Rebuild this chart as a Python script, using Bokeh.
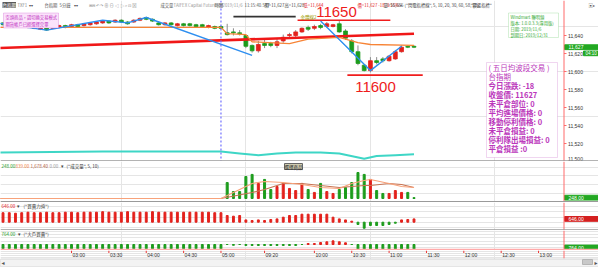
from bokeh.plotting import figure
from bokeh.models import Range1d, Span, Label, BoxAnnotation, ColumnDataSource
from bokeh.layouts import column
from bokeh.embed import file_html
from bokeh.resources import INLINE
from bokeh.core.properties import value

# ------------------------------------------------------------------ data
# 5-minute bars: 36 night-session bars then 31 day-session bars
bar_open = [11654, 11652, 11651, 11652, 11649, 11650, 11647, 11649, 11648, 11649,
            11651, 11650, 11652, 11651, 11652, 11653, 11654, 11656, 11655, 11657,
            11655, 11655, 11657, 11660, 11658, 11654, 11652, 11654, 11651, 11653,
            11653, 11652, 11652, 11649, 11650, 11650,
            11643, 11644, 11643, 11640, 11629, 11623, 11631, 11631, 11629, 11634,
            11640, 11640, 11644, 11649, 11648, 11651, 11650, 11650, 11653, 11645,
            11634, 11622, 11607, 11601, 11612, 11614, 11612, 11614, 11622, 11628, 11628]
bar_high = [11655, 11655, 11654, 11653, 11652, 11651, 11650, 11650, 11651, 11652,
            11652, 11653, 11653, 11654, 11655, 11656, 11657, 11657, 11658, 11658,
            11656, 11658, 11660, 11661, 11659, 11656, 11655, 11655, 11654, 11654,
            11654, 11653, 11653, 11652, 11651, 11651,
            11653, 11648, 11646, 11641, 11630, 11634, 11637, 11633, 11637, 11641,
            11643, 11646, 11649, 11651, 11652, 11653, 11655, 11653, 11656, 11647,
            11636, 11629, 11608, 11616, 11616, 11616, 11618, 11624, 11629, 11629, 11629]
bar_low = [11651, 11651, 11650, 11649, 11648, 11647, 11646, 11645, 11647, 11648,
           11648, 11649, 11649, 11650, 11651, 11652, 11653, 11653, 11654, 11654,
           11652, 11654, 11656, 11657, 11655, 11651, 11651, 11651, 11650, 11650,
           11650, 11649, 11649, 11648, 11647, 11647,
           11640, 11640, 11640, 11626, 11621, 11621, 11626, 11627, 11626, 11632,
           11637, 11638, 11643, 11645, 11646, 11647, 11649, 11649, 11643, 11635,
           11620, 11607, 11600, 11599, 11608, 11610, 11611, 11613, 11621, 11626, 11626]
bar_close = [11652, 11654, 11653, 11650, 11651, 11648, 11649, 11646, 11650, 11651,
             11649, 11652, 11650, 11653, 11654, 11655, 11656, 11654, 11657, 11655,
             11653, 11657, 11659, 11658, 11656, 11652, 11654, 11652, 11653, 11651,
             11651, 11650, 11650, 11651, 11648, 11648,
             11641, 11643, 11642, 11628, 11623, 11630, 11629, 11629, 11633, 11638,
             11641, 11644, 11648, 11647, 11650, 11649, 11653, 11652, 11644, 11637,
             11622, 11609, 11601, 11612, 11610, 11612, 11617, 11622, 11627, 11627, 11627]
night_bars = 36

# price-panel lines
ma_long_x = [0, 67]
ma_long = [11626, 11642]
ma_mid_x = [0, 36, 37, 40, 41, 47, 50, 55, 58, 60, 67]
ma_mid = [11649, 11649, 11642, 11641, 11633, 11631, 11636, 11638, 11632, 11630, 11629]
zig1_x = [0, 8, 17, 21, 24, 41]
zig1 = [11654, 11646, 11657, 11654, 11660, 11618]
zig2_x = [52, 60, 65]
zig2 = [11656, 11601, 11628]
cyan_x = [0, 17, 27, 36, 39, 42, 45, 48, 52, 55, 59, 61, 64, 67]
cyan = [11510, 11511, 11511, 11511, 11509, 11507, 11509, 11510, 11510, 11509, 11503, 11506, 11507, 11508]
high_line = {"x0": 38, "x1": 48, "y": 11661}
level_650 = {"x0": 48.3, "x1": 63.2, "y": 11657}
level_600 = {"x0": 56.3, "x1": 68.4, "y": 11596}
price_ticks = [11500, 11520, 11540, 11560, 11580, 11600, 11620, 11640]

# volume (day session only)
day_volume = [1120, 600, 600, 1470, 1590, 1070, 1300, 720, 890, 1070,
              780, 660, 1070, 720, 550, 1070, 600, 490, 720, 840,
              1120, 1700, 1590, 1300, 660, 490, 490, 660, 550, 550, 248]
vol_ma_x = [0, 36, 41, 43, 46, 49, 52, 55, 57, 59, 60, 63, 65, 67]
vol_ma5 = [200, 200, 1066, 1181, 1123, 1008, 835, 777, 1066, 1239, 1296, 1066, 892, 835]
vol_ma10 = [200, 200, 546, 719, 1066, 1066, 950, 835, 892, 950, 950, 1066, 1008, 835]
VOL_AXIS_MIN = 200

# 買賣力道
force = [1860, 1860, 1760, 1860, 1960, 1860, 1860, 1960, 1860, 1860,
         1960, 1960, 1860, 1960, 1960, 1960, 2060, 1960, 1960, 1960,
         2060, 1960, 1960, 1960, 2060, 1960, 1960, 1960, 1960, 1960,
         1960, 1960, 1960, 1960, 1860, 1860,
         1310, 1180, 1310, 450, 330, 450, 330, 530, 650, 980,
         1310, 1310, 1570, 1570, 1570, 1570, 1570, 980, 650, 450,
         200, -450, -1180, -650, -650, -650, -450, -200, 450, 530, 646]
# 大戶買賣
bigplayer = [-650, -620, -660, -650, -640, -660, -650, -650, -630, -660,
             -650, -650, -660, -640, -650, -650, -660, -650, -650, -640,
             -650, -660, -650, -650, -650, -640, -660, -650, -650, -650,
             -660, -650, -640, -650, -650, -660,
             0, -120, 0, -150, -150, -150, -150, -150, -150, -150,
             -150, -150, 0, 150, 150, 300, 410, 560, 410, 260,
             0, -700, -780, -765, -765, -720, -765, -765, -740, -765, -764]

tick_pos = [12, 18, 24, 30, 36, 43, 51, 57, 63, 69, 75, 81, 87]
tick_labels = ["03:00", "03:30", "04:00", "04:30", "05:00", "09:20", "10:00",
               "10:30", "11:00", "11:30", "12:00", "12:30", "13:00"]

info_lines = ["( 五日均波段交易 )", "台指期", "今日漲跌: -18", "收盤價: 11627",
              "未平倉部位: 0", "平均進場價格: 0", "移動停利價格: 0", "未平倉損益: 0",
              "停利隊出場損益: 0", "平倉損益 :0"]
license_lines = ["Windmart 聯明頻", "版本: 1.0.0.3.3(專用版)", "日期: 2019/11/6", "到期日: 2019/12/31"]
notice_lines = ["空頭商品，請切換交易模式", "期貨帳戶已經選擇完畢"]

# ------------------------------------------------------------------ layout helpers
W = 598
PX_PER_BAR = 6.227
X0 = -3.7
CJK = "Noto Sans CJK TC"
SANS = "Liberation Sans"
RED = "#e3211c"
GREEN = "#1c9c1c"
AXIS_RED = "#ff6b6b"


def bx(px):
    return (px - X0) / PX_PER_BAR


xr = Range1d(bx(0), bx(W))


class Geo:
    def __init__(self, top, height, lo, hi):
        self.top, self.height, self.lo, self.hi = top, height, lo, hi

    def y(self, py):
        return self.hi - (py - self.top) * (self.hi - self.lo) / self.height

    def dy(self, dpx):
        return dpx * (self.hi - self.lo) / self.height


def make_fig(g):
    p = figure(width=W, height=g.height, x_range=xr, y_range=Range1d(g.lo, g.hi),
               output_backend="svg", toolbar_location=None, min_border=0,
               x_axis_location=None, y_axis_location=None)
    p.outline_line_color = None
    p.background_fill_color = "white"
    p.border_fill_color = "white"
    return p


def lab(p, g, px, py, text, size, color, font=CJK, align="left", bg=None,
        border=None, bold=False):
    p.add_layout(Label(x=bx(px), y=g.y(py), text=text, text_font_size=f"{size}px",
                       text_color=color, text_font=font, text_align=align,
                       text_baseline="middle", background_fill_color=bg,
                       border_line_color=border,
                       text_font_style="bold" if bold else "normal"))


def tag(p, g, val, text, fill, tcolor="white"):
    h = g.dy(2.4)
    c = min(max(val, g.lo + 1.25 * h), g.hi - 1.25 * h)   # keep the tag inside its panel
    p.quad(left=[bx(564)], right=[bx(598)], top=[c + h], bottom=[c - h],
           fill_color=fill, line_color=fill)
    p.text(x=[bx(568)], y=[c], text=[text], text_font=value(SANS),
           text_font_size="5px", text_color=tcolor, text_baseline="middle")


def separator(p, g, py, color="#9a9a9a", width=1.5):
    p.add_layout(Span(location=g.y(py), dimension="width", line_color=color,
                      line_width=width))


def right_rule(p):
    p.add_layout(Span(location=bx(563.5), dimension="height", line_color=AXIS_RED,
                      line_width=1))


bars_x = list(range(1, len(bar_close) + 1))
day_x = bars_x[night_bars:]
candle_color = [RED if c >= o else GREEN for o, c in zip(bar_open, bar_close)]

# ------------------------------------------------------------------ main price panel
g1 = Geo(0, 161, 11500, 11678.9)
p1 = make_fig(g1)
right_rule(p1)

p1.add_layout(Span(location=night_bars, dimension="height", line_color="#6f6fff",
                   line_dash="2 2", line_width=1.2))

p1.line(cyan_x, cyan, line_color="#3ed6c6", line_width=2)

src = ColumnDataSource(dict(x=bars_x, o=bar_open, h=bar_high, l=bar_low, c=bar_close,
                            top=[max(o, c) for o, c in zip(bar_open, bar_close)],
                            bot=[min(o, c) for o, c in zip(bar_open, bar_close)],
                            col=candle_color))
p1.segment(x0="x", y0="h", x1="x", y1="l", source=src, line_color="#8c8c8c", line_width=1)
p1.vbar(x="x", width=0.62, top="top", bottom="bot", source=src,
        fill_color="col", line_color="col", line_width=0.8)

p1.line(ma_long_x, ma_long, line_color="#f01818", line_width=2.6)
p1.line(ma_mid_x, ma_mid, line_color="#f78436", line_width=1.3)

for lv, colr in ((high_line, "#333333"), (level_650, "#f01c1c"), (level_600, "#f01c1c")):
    p1.segment(x0=[lv["x0"]], y0=[lv["y"]], x1=[lv["x1"]], y1=[lv["y"]],
               line_color=colr, line_width=1.6)

p1.line(zig1_x, zig1, line_color="#2e8ff0", line_width=1.4)
p1.line(zig2_x, zig2, line_color="#2e8ff0", line_width=1.4)

# right price axis
p1.segment(x0=[bx(563.5)] * len(price_ticks), x1=[bx(566)] * len(price_ticks),
           y0=price_ticks, y1=price_ticks, line_color=AXIS_RED)
p1.text(x=[bx(567.5)] * (len(price_ticks) - 1), y=price_ticks[1:],
        text=[f"{t:,}" for t in price_ticks[1:]], text_font=value(SANS),
        text_font_size="5px", text_color="#333333", text_baseline="middle")
# lowest label sits on the panel floor: lift it so it stays whole
p1.text(x=[bx(567.5)], y=price_ticks[:1], text=[f"{price_ticks[0]:,}"],
        text_font=value(SANS), text_font_size="5px", text_color="#333333",
        text_baseline="bottom", y_offset=-0.5)
tag(p1, g1, bar_close[-1], f"{bar_close[-1]:,}", "#22a822")
p1.quad(left=[bx(583)], right=[bx(598)], top=[g1.y(50.6)], bottom=[g1.y(55.2)],
        fill_color="#22a822", line_color="#22a822")
lab(p1, g1, 585, 53, "04:10", 4.5, "white", font=SANS)

# toolbar strip
lab(p1, g1, 2, 4.5, "台指期", 4.5, "white", bg="#5a5a5a")
toolbar = [(17, "TXF1", "#888888"), (28, "▾ ▾", "#555555"), (44, "台指期", "#555555"),
           (59, "5分鐘", "#555555"), (73, "▾ ▾", "#555555"),
           (88, "⊞ ⊟ ↶ ↷ ⊕ ⊖ ◁ ▷ ⌕ ⊡ ⊠", "#888888"),
           (160, "成交量", "#555555"), (173, "TAIFEX  Capital Futures04", "#999999"),
           (214, "時間", "#555555"), (222, "2019/11/6", "#999999"),
           (244, "11:15:40.547", "#555555"), (264, "開=11,627", "#444444"),
           (284, "高=11,628", "#444444"), (303, "低=11,644", RED),
           (357, "價=11,627  -18  -0.15%", RED), (383, "量=56,685", "#444444"),
           (399, "▾", "#555555"),
           (404, '("閃電指標線", 5, 10, 20, 30, 60, 58, 58)', "#444444"),
           (470, '"震盪指標"', "#444444"), (588, "▣▸", "#555555")]
for px, t, colr in toolbar:
    lab(p1, g1, px, 4.5, t, 4.3, colr)

# notice box (top left)
p1.add_layout(BoxAnnotation(left=bx(3), right=bx(58), top=g1.y(12.5), bottom=g1.y(27.5),
                            fill_color="#fbe3fb", fill_alpha=1, line_color="#cc55cc",
                            line_width=1))
for i, t in enumerate(notice_lines):
    lab(p1, g1, 5, 16.5 + 7 * i, t, 4.3, "#c030c0")

# license box (top right)
p1.add_layout(BoxAnnotation(left=bx(508), right=bx(558), top=g1.y(12.5), bottom=g1.y(37),
                            fill_color="white", fill_alpha=1, line_color="#77cc77",
                            line_width=1))
for i, t in enumerate(license_lines):
    lab(p1, g1, 510, 16.5 + 6 * i, t, 4.3, "#33aa33")

# strategy info box
p1.add_layout(BoxAnnotation(left=bx(486), right=bx(557), top=g1.y(62), bottom=g1.y(157),
                            fill_color="white", fill_alpha=1, line_color="#cc77cc",
                            line_width=1))
for i, t in enumerate(info_lines):
    lab(p1, g1, 488, 67 + 8.95 * i, t, 7.5, "#bb36bb", bold=(i >= 2))

# big level annotations
lab(p1, g1, 336, 11.5, "11650", 15, "#ee1c1c", font=SANS, align="center")
lab(p1, g1, 375, 86, "11600", 15, "#ee1c1c", font=SANS, align="center")
lab(p1, g1, 300, 16, "金體線2", 4.5, "#9a9a00")

separator(p1, g1, 160.5)

# ------------------------------------------------------------------ volume panel
g2 = Geo(161, 41, -31, 2335)
p2 = make_fig(g2)
right_rule(p2)
p2.vbar(x=day_x, width=0.32, top=day_volume, bottom=VOL_AXIS_MIN,
        fill_color=candle_color[night_bars:], line_color=candle_color[night_bars:])
p2.line(vol_ma_x, vol_ma10, line_color="#c87454", line_width=1.2)
p2.line(vol_ma_x, vol_ma5, line_color="#f8a27a", line_width=1.2)
tag(p2, g2, day_volume[-1], f"{day_volume[-1]:.2f}", "#22a822")
hdr2 = [(1, f"{day_volume[-1]:.2f}", GREEN), (15, f"{vol_ma5[-1] + 4:.2f}", "#f08040"),
        (30, "1,678.40", "#b05a3a"), (49, "0.00", "#999999"), (60, "▾", "#444444"),
        (66, '("成交量", 5, 10)', "#333333")]
for px, t, colr in hdr2:
    lab(p2, g2, px, 165, t, 4.5, colr)
lab(p2, g2, 284, 166, "選擇商品", 4.5, "#222222", bg="#cfcbb0", border="#666666")
separator(p2, g2, 201.3)

# ------------------------------------------------------------------ 買賣力道 panel
g3 = Geo(202, 28, -1627, 3861)
p3 = make_fig(g3)
right_rule(p3)
p3.vbar(x=bars_x, width=0.3, top=force, bottom=0,
        fill_color=[RED if v > 0 else GREEN for v in force],
        line_color=[RED if v > 0 else GREEN for v in force])
tag(p3, g3, force[-1], f"{abs(force[-1]):.2f}", "#d42020")
for px, t, colr in [(1, f"{abs(force[-1]):.2f}", RED), (16, "▾", "#444444"),
                    (23, '("買賣力道")', "#333333")]:
    lab(p3, g3, px, 205.5, t, 4.5, colr)
separator(p3, g3, 229.5)

# ------------------------------------------------------------------ 大戶買賣 panel
g4 = Geo(230, 20, -918, 2142)
p4 = make_fig(g4)
right_rule(p4)
p4.vbar(x=bars_x, width=0.3, top=bigplayer, bottom=0,
        fill_color=[RED if v > 0 else GREEN for v in bigplayer],
        line_color=[RED if v > 0 else GREEN for v in bigplayer])
separator(p4, g4, 249.2, color="#ffaaaa", width=2)
tag(p4, g4, bigplayer[-1], f"{abs(bigplayer[-1]):.2f}", "#22a822")
for px, t, colr in [(1, f"{abs(bigplayer[-1]):.2f}", GREEN), (17, "▾", "#444444"),
                    (23, '("大戶買賣")', "#333333")]:
    lab(p4, g4, px, 233.5, t, 4.5, colr)

# ------------------------------------------------------------------ time axis + scrollbar
g5 = Geo(250, 17, 0, 17)
p5 = make_fig(g5)
p5.segment(x0=[bx(563.5)], x1=[bx(563.5)], y0=[g5.y(250)], y1=[g5.y(258)],
           line_color=AXIS_RED)
p5.segment(x0=tick_pos, x1=tick_pos, y0=[g5.y(250)] * len(tick_pos),
           y1=[g5.y(252.5)] * len(tick_pos), line_color="#ee3333", line_width=1)
p5.text(x=tick_pos, y=[g5.y(254.3)] * len(tick_pos), text=tick_labels,
        text_font=value(SANS), text_font_size="5px", text_color="#333333",
        text_baseline="middle", x_offset=1)
p5.quad(left=[bx(0)], right=[bx(598)], top=[g5.y(258.5)], bottom=[g5.y(266.5)],
        fill_color="#f3f3f3", line_color="#d6d6d6")
p5.quad(left=[bx(582)], right=[bx(592)], top=[g5.y(259)], bottom=[g5.y(264)],
        fill_color="#c9c9c9", line_color="#b5b5b5")
p5.text(x=[bx(1), bx(594)], y=[g5.y(262)] * 2, text=["◂", "▸"], text_font=value("DejaVu Sans"),
        text_font_size="6px", text_color="#555555", text_baseline="middle")

layout = column(p1, p2, p3, p4, p5, spacing=0)
open("out.html", "w").write(file_html(layout, INLINE))
